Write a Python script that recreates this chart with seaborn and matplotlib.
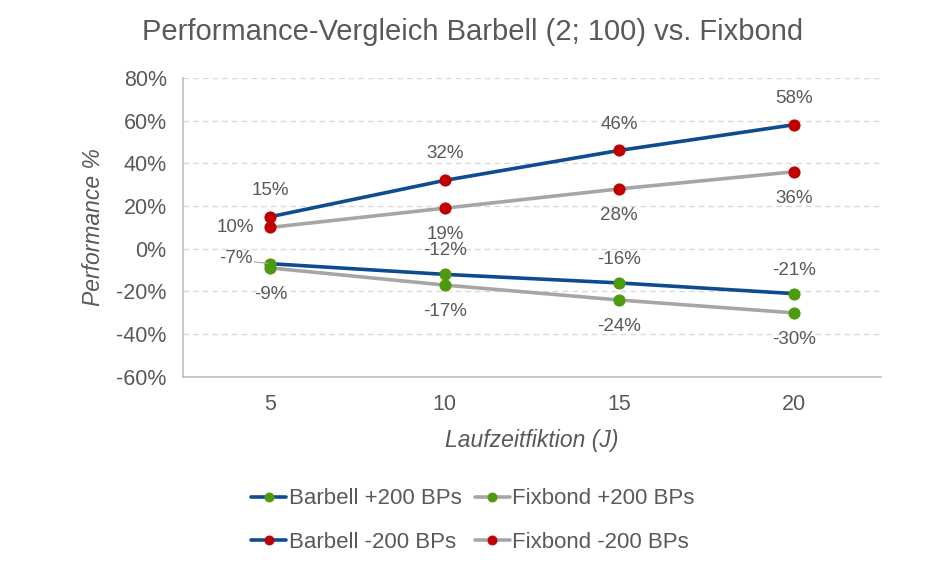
import matplotlib
matplotlib.use("Agg")
import matplotlib.pyplot as plt
import seaborn as sns
import pandas as pd
from matplotlib.ticker import FuncFormatter, FixedLocator

laufzeit = [5, 10, 15, 20]
barbell_plus = [-7, -12, -16, -21]
fixbond_plus = [-9, -17, -24, -30]
barbell_minus = [15, 32, 46, 58]
fixbond_minus = [10, 19, 28, 36]
y_ticks = [-60, -40, -20, 0, 20, 40, 60, 80]

sns.set_theme(style="white")
plt.rcParams["font.family"] = ["Liberation Sans", "DejaVu Sans"]

grau_text = "#595959"
blau = "#0E4C8F"
grau = "#A6A6A6"
gruen = "#4E9A0E"
rot = "#C00000"

fig = plt.figure(figsize=(9.4, 5.72), dpi=100)
ax = fig.add_axes([0.195, 0.341, 0.742, 0.523])

serien = [
    ("Barbell +200 BPs", barbell_plus, blau, gruen),
    ("Fixbond +200 BPs", fixbond_plus, grau, gruen),
    ("Barbell -200 BPs", barbell_minus, blau, rot),
    ("Fixbond -200 BPs", fixbond_minus, grau, rot),
]

handles = {}
for name, werte, lc, mc in serien:
    df = pd.DataFrame({"x": laufzeit, "y": werte})
    sns.lineplot(data=df, x="x", y="y", ax=ax, color=lc, linewidth=2.6,
                 marker="o", markersize=8, markerfacecolor=mc,
                 markeredgecolor=mc, label=name, zorder=3)
    handles[name] = ax.lines[-1]

# Datenbeschriftungen
def beschriften(werte, dy, erste=None):
    for i, (x, v) in enumerate(zip(laufzeit, werte)):
        off = (0, dy)
        if i == 0 and erste is not None:
            off = erste
        ax.annotate(f"{v}%", (x, v), xytext=off, textcoords="offset points",
                    ha="center", va="center", fontsize=13.5, color=grau_text)

beschriften(barbell_minus, 19)
beschriften(fixbond_minus, -19, erste=(-25, 0))
beschriften(barbell_plus, 17, erste=(-25, 3.5))
beschriften(fixbond_plus, -19)

ax.annotate("", xy=(5, barbell_plus[0]), xytext=(4.45, barbell_plus[0] + 1),
            arrowprops=dict(arrowstyle="-", color="#A6A6A6", lw=0.8))

ax.set_xlim(2.5, 22.5)
ax.set_ylim(-60, 80)
ax.set_xticks(laufzeit)
ax.xaxis.set_minor_locator(FixedLocator([7.5, 12.5, 17.5]))
ax.tick_params(axis="x", which="major", length=0, pad=12)
ax.tick_params(axis="x", which="minor", length=6, color="#BFBFBF", direction="in")
ax.set_yticks(y_ticks)
ax.yaxis.set_major_formatter(FuncFormatter(lambda v, p: f"{int(v)}%"))
ax.tick_params(axis="y", length=0, pad=12)
ax.tick_params(labelsize=15.5, labelcolor=grau_text)

ax.grid(axis="y", color="#D9D9D9", linestyle=(0, (4, 3)), linewidth=1)
ax.set_axisbelow(True)
for s in ["top", "right"]:
    ax.spines[s].set_visible(False)
for s in ["left", "bottom"]:
    ax.spines[s].set_color("#BFBFBF")
    ax.spines[s].set_linewidth(1.2)

ax.set_xlabel("Laufzeitfiktion (J)", fontsize=16.5, style="italic", color=grau_text, labelpad=10)
ax.set_ylabel("Performance %", fontsize=16.5, style="italic", color=grau_text, labelpad=8)

fig.suptitle("Performance-Vergleich Barbell (2; 100) vs. Fixbond", x=0.503, y=0.968,
             fontsize=21, color=grau_text)

ax.get_legend().remove()
order = ["Barbell +200 BPs", "Barbell -200 BPs", "Fixbond +200 BPs", "Fixbond -200 BPs"]
fig.legend([handles[n] for n in order], order, ncol=2, loc="center",
           bbox_to_anchor=(0.503, 0.090), frameon=False, fontsize=16,
           labelcolor=grau_text, handlelength=1.6, handletextpad=0.1,
           columnspacing=0.6, labelspacing=1.0, markerscale=0.8)

fig.savefig("out.png", dpi=100)
